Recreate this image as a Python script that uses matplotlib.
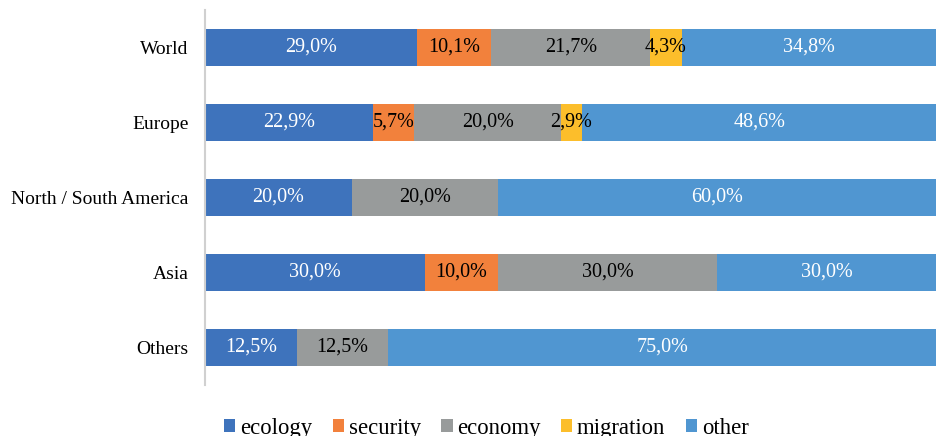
import numpy as np
import matplotlib.pyplot as plt

# ── Dados ─────────────────────────────────────────────────────────────────────

regions   = ["World", "Europe", "North / South America", "Asia", "Others"]
ecology   = [29.0, 22.9, 20.0, 30.0, 12.5]
security  = [10.1, 5.7, 0.0, 10.0, 0.0]
economy   = [21.7, 20.0, 20.0, 30.0, 12.5]
migration = [4.3, 2.9, 0.0, 0.0, 0.0]
other     = [34.8, 48.6, 60.0, 30.0, 75.0]

series = [
    ("ecology",   ecology,   "#3E73BC", "white"),
    ("security",  security,  "#F2813C", "black"),
    ("economy",   economy,   "#989B9B", "black"),
    ("migration", migration, "#FCBE2B", "black"),
    ("other",     other,     "#5096D1", "white"),
]

# ── Estilo ────────────────────────────────────────────────────────────────────

plt.rcParams.update({
    "font.family": ["Liberation Serif", "DejaVu Serif"],
    "font.size": 14,
})

fig = plt.figure(figsize=(9.37, 4.36), dpi=100)
ax = fig.add_axes([0.219, 0.117, 0.781, 0.860])

y = np.arange(len(regions))
left = np.zeros(len(regions))
for name, vals, color, tcolor in series:
    vals = np.array(vals)
    ax.barh(y, vals, left=left, height=0.5, color=color, label=name)
    for yi, l, v in zip(y, left, vals):
        if v > 0:
            ax.text(l + v / 2, yi, f"{v:.1f}%".replace(".", ","),
                    ha="center", va="center", color=tcolor, fontsize=14.5)
    left += vals

ax.set_yticks(y)
ax.set_yticklabels(regions, fontsize=14)
ax.set_ylim(len(regions) - 0.5, -0.5)
ax.set_xlim(0, 100)
ax.set_xticks([])
ax.tick_params(axis="y", length=0, pad=12)
for s in ["top", "right", "bottom"]:
    ax.spines[s].set_visible(False)
ax.spines["left"].set_color("#D0D0D0")
ax.spines["left"].set_linewidth(1.5)

fig.legend(loc="center", bbox_to_anchor=(0.519, 0.018), ncol=5, frameon=False,
           fontsize=16.4, handlelength=0.5, handleheight=0.5, handletextpad=0.2,
           columnspacing=0.9)

fig.savefig("out.png", dpi=100, facecolor="white")
